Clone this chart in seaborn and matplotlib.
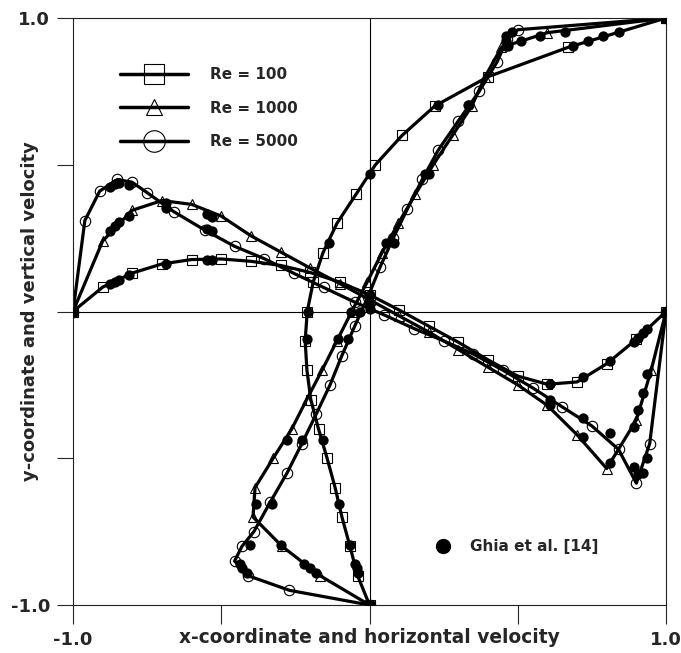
import numpy as np
import pandas as pd
import matplotlib
matplotlib.use("Agg")
import matplotlib.pyplot as plt
from matplotlib.lines import Line2D
import seaborn as sns

# Centreline velocity profiles of the lid-driven cavity, coordinates scaled to [-1, 1]
# u along the vertical centreline: y position and u value
u100_y = [-1.0, -0.9, -0.8, -0.7, -0.6, -0.5, -0.4, -0.3, -0.2, -0.1, 0.0,
          0.1, 0.2, 0.3, 0.4, 0.5, 0.6, 0.7, 0.8, 0.9, 1.0]
u100 = [0.0, -0.040, -0.066, -0.093, -0.116, -0.143, -0.172, -0.198, -0.211, -0.217, -0.210,
        -0.190, -0.157, -0.110, -0.045, 0.020, 0.110, 0.220, 0.400, 0.670, 1.0]

u1000_y = [-1.0, -0.9, -0.8, -0.7, -0.6, -0.5, -0.4, -0.3, -0.2, -0.1, 0.0,
           0.1, 0.2, 0.3, 0.4, 0.5, 0.6, 0.7, 0.8, 0.9, 0.95, 1.0]
u1000 = [0.0, -0.167, -0.295, -0.393, -0.386, -0.325, -0.262, -0.212, -0.160, -0.110, -0.060,
         -0.008, 0.042, 0.097, 0.155, 0.215, 0.280, 0.345, 0.390, 0.445, 0.600, 1.0]

u5000_y = [-1.0, -0.95, -0.9, -0.85, -0.8, -0.75, -0.65, -0.55, -0.45, -0.35, -0.25, -0.15,
           -0.05, 0.05, 0.15, 0.25, 0.35, 0.45, 0.55, 0.65, 0.75, 0.85, 0.93, 0.96, 1.0]
u5000 = [0.0, -0.270, -0.410, -0.455, -0.430, -0.390, -0.335, -0.278, -0.228, -0.180, -0.133, -0.093,
         -0.050, -0.005, 0.035, 0.080, 0.128, 0.178, 0.232, 0.300, 0.370, 0.430, 0.465, 0.500, 1.0]

# v along the horizontal centreline: x position and v value
v100_x = [-1.0, -0.9, -0.8, -0.7, -0.6, -0.5, -0.4, -0.3, -0.2, -0.1, 0.0,
          0.1, 0.2, 0.3, 0.4, 0.5, 0.6, 0.7, 0.8, 0.9, 1.0]
v100 = [0.0, 0.083, 0.131, 0.162, 0.177, 0.179, 0.171, 0.157, 0.133, 0.100, 0.057,
        0.005, -0.050, -0.105, -0.165, -0.220, -0.248, -0.240, -0.178, -0.095, 0.0]

v1000_x = [-1.0, -0.9, -0.8, -0.7, -0.6, -0.5, -0.4, -0.3, -0.2, -0.1, 0.0,
           0.1, 0.2, 0.3, 0.4, 0.5, 0.6, 0.7, 0.8, 0.9, 0.95, 1.0]
v1000 = [0.0, 0.240, 0.345, 0.378, 0.365, 0.325, 0.258, 0.203, 0.148, 0.095, 0.040,
         -0.015, -0.070, -0.130, -0.190, -0.250, -0.320, -0.420, -0.535, -0.370, -0.200, 0.0]

v5000_x = [-1.0, -0.96, -0.91, -0.85, -0.8, -0.75, -0.66, -0.555, -0.455, -0.355, -0.255, -0.155,
           -0.05, 0.05, 0.15, 0.25, 0.35, 0.45, 0.55, 0.65, 0.75, 0.84, 0.9, 0.945, 1.0]
v5000 = [0.0, 0.310, 0.410, 0.450, 0.440, 0.405, 0.340, 0.277, 0.222, 0.180, 0.130, 0.082,
         0.032, -0.012, -0.058, -0.100, -0.145, -0.200, -0.260, -0.325, -0.390, -0.470, -0.585, -0.450, 0.0]

# Ghia et al. benchmark points (grid scaled to [-1, 1])
ghia_y = [1.0, 0.9532, 0.9376, 0.9218, 0.9062, 0.7032, 0.4688, 0.2344, 0.0, -0.0938,
          -0.4374, -0.6562, -0.7968, -0.8594, -0.875, -0.8906, -1.0]
ghia_u100 = [1.0, 0.84123, 0.78871, 0.73722, 0.68717, 0.23151, 0.00332, -0.13641, -0.20581,
             -0.21090, -0.15662, -0.10150, -0.06434, -0.04775, -0.04192, -0.03717, 0.0]
ghia_u1000 = [1.0, 0.65928, 0.57492, 0.51117, 0.46604, 0.33304, 0.18719, 0.05702, -0.06080,
              -0.10648, -0.27805, -0.38289, -0.29730, -0.22220, -0.20196, -0.18109, 0.0]
ghia_u5000 = [1.0, 0.48223, 0.46120, 0.45992, 0.46036, 0.33556, 0.20087, 0.08183, -0.03039,
              -0.07404, -0.22855, -0.33050, -0.40435, -0.43643, -0.42901, -0.41165, 0.0]

ghia_x = [1.0, 0.9376, 0.9218, 0.9062, 0.8906, 0.8126, 0.7188, 0.6094, 0.0, -0.5312,
          -0.5468, -0.6874, -0.8124, -0.8438, -0.8594, -0.875, -1.0]
ghia_v100 = [0.0, -0.05906, -0.07391, -0.08864, -0.10313, -0.16914, -0.22445, -0.24533, 0.05454,
             0.17527, 0.17507, 0.16077, 0.12317, 0.10890, 0.10091, 0.09233, 0.0]
ghia_v1000 = [0.0, -0.21388, -0.27669, -0.33714, -0.39188, -0.51550, -0.42665, -0.31966, 0.02526,
              0.32235, 0.33075, 0.37095, 0.32627, 0.30353, 0.29012, 0.27485, 0.0]
ghia_v5000 = [0.0, -0.49774, -0.55069, -0.55408, -0.52876, -0.41442, -0.36214, -0.30018, 0.00945,
              0.27280, 0.28066, 0.35368, 0.42951, 0.43648, 0.43329, 0.42447, 0.0]

re_labels = ["Re = 100", "Re = 1000", "Re = 5000"]


def ghia_points():
    xs, ys = [], []
    for u in (ghia_u100, ghia_u1000, ghia_u5000):
        xs += u
        ys += ghia_y
    for v in (ghia_v100, ghia_v1000, ghia_v5000):
        xs += ghia_x
        ys += v
    return pd.DataFrame({"x": xs, "y": ys})


sns.set_style("ticks")
plt.rcParams["font.family"] = ["DejaVu Sans"]
plt.rcParams["font.weight"] = "bold"

fig = plt.figure(figsize=(6.81, 6.53), dpi=100)
ax = fig.add_axes([73 / 681, 1 - 605 / 653, 593 / 681, 587 / 653])

ax.axhline(0, color="black", lw=0.8, zorder=1)
ax.axvline(0, color="black", lw=0.8, zorder=1)

curves = [
    (u100, u100_y, "s"), (v100_x, v100, "s"),
    (u1000, u1000_y, "^"), (v1000_x, v1000, "^"),
    (u5000, u5000_y, "o"), (v5000_x, v5000, "o"),
]
for xs, ys, mk in curves:
    sns.lineplot(x=xs, y=ys, sort=False, estimator=None, ax=ax, color="black",
                 linewidth=2.3, marker=mk, markersize=7.5, markerfacecolor="none",
                 markeredgecolor="black", markeredgewidth=0.8, zorder=2)

g = ghia_points()
sns.scatterplot(data=g, x="x", y="y", color="black", s=55, linewidth=0, ax=ax, zorder=4)

ax.set_xlim(-1, 1)
ax.set_ylim(-1, 1)
ticks = [-1.0, -0.5, 0.0, 0.5, 1.0]
ax.set_xticks(ticks)
ax.set_yticks(ticks)
ax.set_xticklabels(["-1.0", "", "", "", "1.0"])
ax.set_yticklabels(["-1.0", "", "", "", "1.0"])
ax.tick_params(axis="x", direction="out", length=14, width=0.8, labelsize=13, pad=5)
ax.tick_params(axis="y", direction="out", length=11.5, width=0.8, labelsize=13, pad=5)
for sp in ax.spines.values():
    sp.set_visible(True)
    sp.set_linewidth(0.8)
    sp.set_color("#222222")

ax.set_xlabel("x-coordinate and horizontal velocity", fontsize=13.4, fontweight="bold")
ax.set_ylabel("y-coordinate and vertical velocity", fontsize=13, fontweight="bold")
ax.xaxis.set_label_coords(0.5, -0.04)
ax.yaxis.set_label_coords(-0.057, 0.5)

handles = [
    Line2D([], [], color="black", lw=2.5, marker="s", markersize=15,
           markerfacecolor="none", markeredgecolor="black", markeredgewidth=0.8),
    Line2D([], [], color="black", lw=2.5, marker="^", markersize=12,
           markerfacecolor="none", markeredgecolor="black", markeredgewidth=0.8),
    Line2D([], [], color="black", lw=2.5, marker="o", markersize=15.5,
           markerfacecolor="none", markeredgecolor="black", markeredgewidth=0.8),
]
leg = ax.legend(handles, re_labels, loc="upper left", bbox_to_anchor=(0.067, 0.929),
                frameon=False, borderpad=0, handlelength=4.45, handletextpad=1.44,
                labelspacing=1.2, prop={"size": 11, "weight": "bold"})
ax.add_artist(leg)

ghia_handle = Line2D([], [], linestyle="none", marker="o", markersize=10,
                     markerfacecolor="black", markeredgecolor="black")
ax.legend([ghia_handle], ["Ghia et al. [14]"], loc="center left",
          bbox_to_anchor=(0.5975, 0.099), frameon=False, borderpad=0,
          handlelength=1.0, handletextpad=1.27, prop={"size": 11, "weight": "bold"})

fig.savefig("out.png", dpi=100)
